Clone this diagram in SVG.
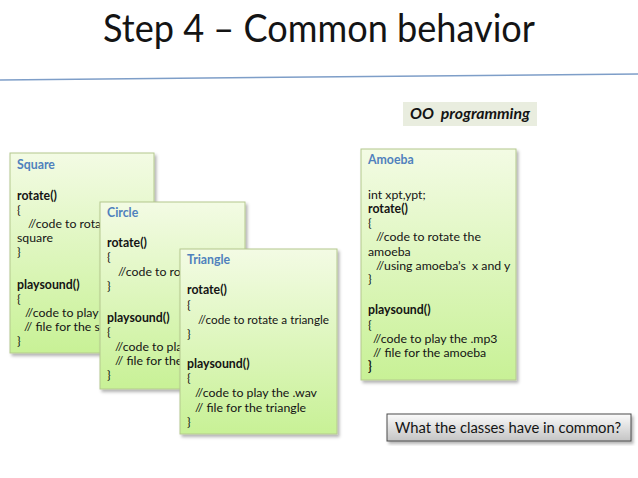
<svg xmlns="http://www.w3.org/2000/svg" width="638" height="478" viewBox="0 0 638 478">
<defs>
<linearGradient id="gBox" x1="0" y1="0" x2="0" y2="1">
<stop offset="0" stop-color="#f3fbe4"/>
<stop offset="1" stop-color="#c8f196"/>
</linearGradient>
<linearGradient id="gBtn" x1="0" y1="0" x2="0" y2="1">
<stop offset="0" stop-color="#fbfbfb"/>
<stop offset="1" stop-color="#c4c4c4"/>
</linearGradient>
<filter id="sh" x="-10%" y="-10%" width="125%" height="125%">
<feDropShadow dx="2" dy="2.5" stdDeviation="1.5" flood-color="#000" flood-opacity="0.3"/>
</filter>
</defs>
<style>
.box{fill:url(#gBox);stroke:#b4c88e;stroke-width:1;filter:url(#sh)}
text{font-family:Lato,"Liberation Sans",sans-serif;fill:#141414;white-space:pre}
.t{font-size:12.3px}
.h{font-size:12.3px;font-weight:bold;fill:#4f81bd}
.b{font-weight:bold}
</style>
<rect width="638" height="478" fill="#ffffff"/>
<text x="319" y="42" text-anchor="middle" font-size="38" textLength="432" lengthAdjust="spacingAndGlyphs">Step 4 – Common behavior</text>
<line x1="0" y1="80" x2="638" y2="74" stroke="#7e9ec8" stroke-width="1.5"/>

<g id="oo">
<rect x="403" y="102" width="134" height="24" fill="#e9eddf"/>
<text x="470" y="119" text-anchor="middle" font-size="14.5" font-weight="bold" font-style="italic" textLength="120" lengthAdjust="spacingAndGlyphs">OO  programming</text>
</g>

<g id="square">
<rect class="box" x="10" y="153" width="144" height="200"/>
<text class="h" x="17" y="169">Square</text>
<text class="t b" x="17" y="200">rotate()</text>
<text class="t" x="17" y="214">{</text>
<text class="t" x="28" y="228">//code to rotat</text>
<text class="t" x="17" y="242">square</text>
<text class="t" x="17" y="256">}</text>
<text class="t b" x="17" y="289">playsound()</text>
<text class="t" x="17" y="303">{</text>
<text class="t" x="25" y="317">//code to play t</text>
<text class="t" x="24" y="331">// file for the sc</text>
<text class="t" x="17" y="345">}</text>
</g>

<g id="circle">
<rect class="box" x="100" y="202" width="145" height="187"/>
<text class="h" x="107" y="216.5">Circle</text>
<text class="t b" x="107" y="247">rotate()</text>
<text class="t" x="107" y="261">{</text>
<text class="t" x="118" y="276">//code to ro</text>
<text class="t" x="107" y="290">}</text>
<text class="t b" x="107" y="322">playsound()</text>
<text class="t" x="107" y="336">{</text>
<text class="t" x="115" y="351">//code to pla</text>
<text class="t" x="115" y="365">// file for the</text>
<text class="t" x="107" y="379">}</text>
</g>

<g id="triangle">
<rect class="box" x="180" y="249" width="157" height="185"/>
<text class="h" x="187" y="264">Triangle</text>
<text class="t b" x="187" y="294">rotate()</text>
<text class="t" x="187" y="308.5">{</text>
<text class="t" x="198" y="324" textLength="131" lengthAdjust="spacingAndGlyphs">//code to rotate a triangle</text>
<text class="t" x="187" y="338">}</text>
<text class="t b" x="187" y="368">playsound()</text>
<text class="t" x="187" y="382">{</text>
<text class="t" x="195" y="397">//code to play the .wav</text>
<text class="t" x="195" y="411.5">// file for the triangle</text>
<text class="t" x="187" y="426">}</text>
</g>

<g id="amoeba">
<rect class="box" x="361" y="149" width="155" height="231"/>
<text class="h" x="368" y="164">Amoeba</text>
<text class="t" x="368" y="199">int xpt,ypt;</text>
<text class="t b" x="368" y="213">rotate()</text>
<text class="t" x="368" y="227">{</text>
<text class="t" x="376" y="241">//code to rotate the</text>
<text class="t" x="368" y="255.5">amoeba</text>
<text class="t" x="376" y="269.5">//using amoeba’s  x and y</text>
<text class="t" x="368" y="283">}</text>
<text class="t b" x="368" y="314">playsound()</text>
<text class="t" x="368" y="328.5">{</text>
<text class="t" x="373" y="342.5">//code to play the .mp3</text>
<text class="t" x="373" y="357">// file for the amoeba</text>
<text class="t b" x="368" y="371">}</text>
</g>

<g id="question">
<rect x="387" y="414" width="244" height="27" fill="url(#gBtn)" stroke="#4a4a4a" stroke-width="1" filter="url(#sh)"/>
<text x="395" y="432.5" font-size="15.5" textLength="226" lengthAdjust="spacingAndGlyphs">What the classes have in common?</text>
</g>
</svg>
